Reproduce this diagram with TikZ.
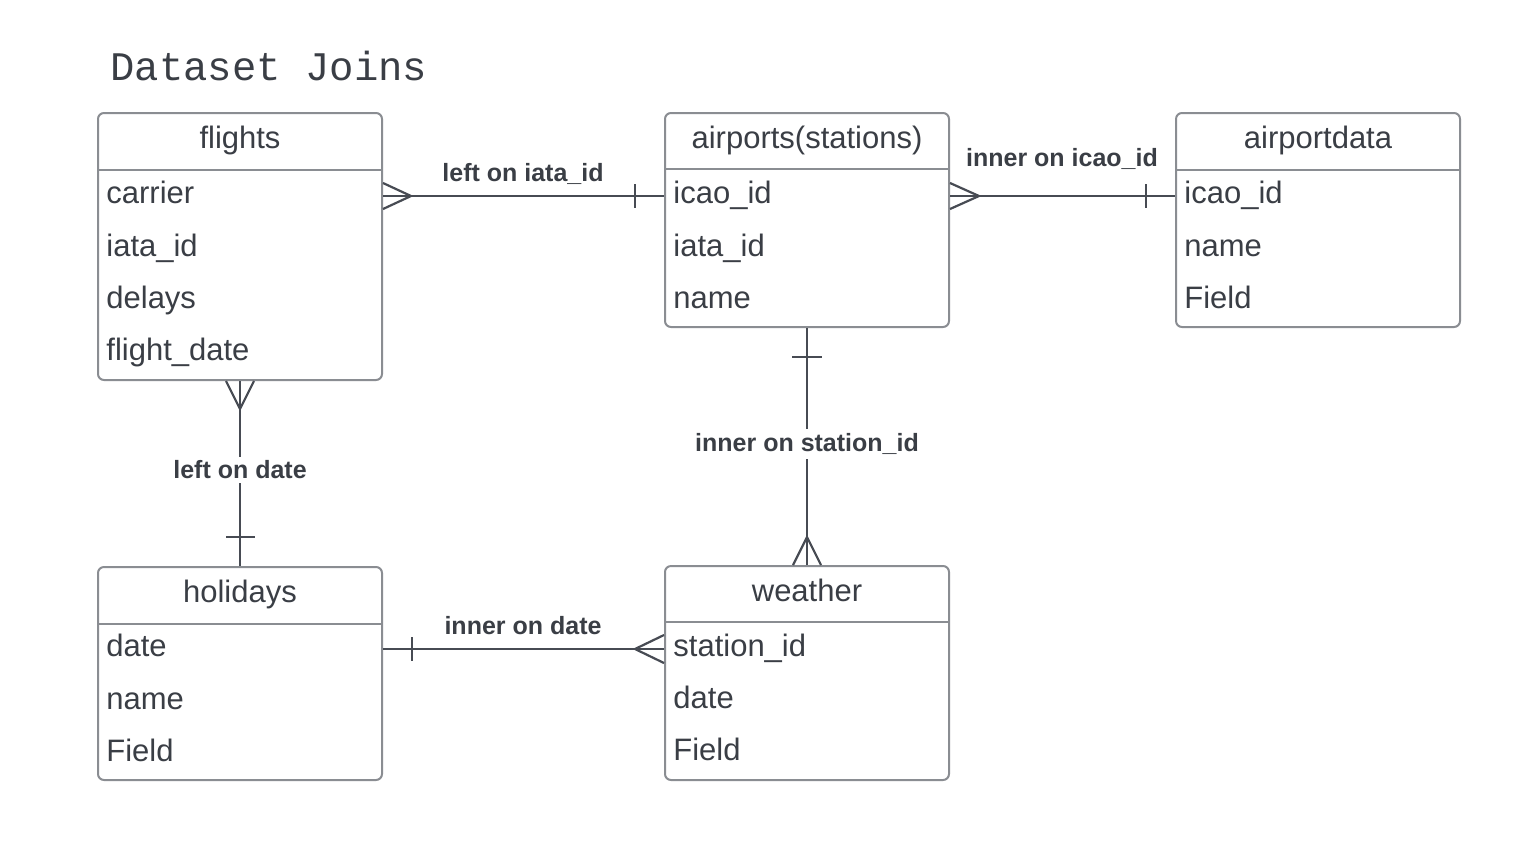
\documentclass[tikz,border=0pt]{standalone}
\usepackage{fontspec}
\setmainfont{Liberation Sans}
\newfontfamily\titlefont{Liberation Mono}
\usetikzlibrary{calc}
\definecolor{txt}{HTML}{3A3E45}
\definecolor{boxline}{HTML}{8A8D92}
\definecolor{conline}{HTML}{474B53}
\tikzset{
  tbl/.style={draw=boxline, line width=1pt, rounded corners=3pt, fill=none, inner sep=0pt, minimum width=142pt},
  hdrline/.style={draw=boxline, line width=1pt},
  hdr/.style={font=\fontsize{15.5}{18}\selectfont, text=txt, anchor=base, inner sep=0pt},
  fld/.style={font=\fontsize{15.5}{18}\selectfont, text=txt, anchor=base west, inner sep=0pt},
  lbl/.style={font=\bfseries\fontsize{12.5}{15}\selectfont, text=txt, anchor=base, inner sep=0pt},
  lblbg/.style={font=\bfseries\fontsize{12.5}{15}\selectfont, text=txt, fill=white, inner sep=2pt},
  conn/.style={draw=conline, line width=1.1pt},
}
\begin{document}
\begin{tikzpicture}[x=0.5pt,y=-0.5pt]
\useasboundingbox (0,0) rectangle (1540,858);
\fill[white] (0,0) rectangle (1540,858);

% title
\node[font=\titlefont\fontsize{20.3}{24}\selectfont, text=txt, anchor=base west, inner sep=0pt] (title) at (110,80) {Dataset Joins};

% tables
\node[tbl, minimum height=133.5pt] (flights) at (240,246.5) {};
\node[tbl, minimum height=107pt] (airports) at (807,220) {};
\node[tbl, minimum height=107pt] (airportdata) at (1318,220) {};
\node[tbl, minimum height=106.5pt] (holidays) at (240,673.5) {};
\node[tbl, minimum height=107pt] (weather) at (807,673) {};

% header lines
\draw[hdrline] (flights.west |- 0,170) -- (flights.east |- 0,170);
\draw[hdrline] (airports.west |- 0,169) -- (airports.east |- 0,169);
\draw[hdrline] (airportdata.west |- 0,170) -- (airportdata.east |- 0,170);
\draw[hdrline] (holidays.west |- 0,624) -- (holidays.east |- 0,624);
\draw[hdrline] (weather.west |- 0,622) -- (weather.east |- 0,622);

% headers
\node[hdr] (hflights) at (240,148) {flights};
\node[hdr] (hairports) at (807,148) {airports(stations)};
\node[hdr] (hairportdata) at (1318,148) {airportdata};
\node[hdr] (hholidays) at (240,602) {holidays};
\node[hdr] (hweather) at (807,601) {weather};

% fields
\node[fld] (f1) at (106,203) {carrier};
\node[fld] (f2) at (106,256) {iata\_id};
\node[fld] (f3) at (106,308) {delays};
\node[fld] (f4) at (106,360) {flight\_date};

\node[fld] (a1) at (673,203) {icao\_id};
\node[fld] (a2) at (673,256) {iata\_id};
\node[fld] (a3) at (673,308) {name};

\node[fld] (d1) at (1184,203) {icao\_id};
\node[fld] (d2) at (1184,256) {name};
\node[fld] (d3) at (1184,308) {Field};

\node[fld] (h1) at (106,656) {date};
\node[fld] (h2) at (106,709) {name};
\node[fld] (h3) at (106,761) {Field};

\node[fld] (w1) at (673,656) {station\_id};
\node[fld] (w2) at (673,708) {date};
\node[fld] (w3) at (673,760) {Field};

% connector end points
\coordinate (c1a) at (flights.east |- 0,196);
\coordinate (c1b) at (airports.west |- 0,196);
\coordinate (c2a) at (airports.east |- 0,196);
\coordinate (c2b) at (airportdata.west |- 0,196);
\coordinate (c3a) at (flights.south);
\coordinate (c3b) at (holidays.north);
\coordinate (c4a) at (airports.south);
\coordinate (c4b) at (weather.north);
\coordinate (c5a) at (holidays.east |- 0,649);
\coordinate (c5b) at (weather.west |- 0,649);

% connector 1: flights -> airports
\draw[conn] (c1a) -- (c1b);
\draw[conn] ($(c1a)+(0,-13)$) -- ($(c1a)+(28,0)$) -- ($(c1a)+(0,13)$);
\draw[conn] ($(c1b)+(-29,-12)$) -- ($(c1b)+(-29,12)$);
\node[lbl] (l1) at (523,181) {left on iata\_id};

% connector 2: airports -> airportdata
\draw[conn] (c2a) -- (c2b);
\draw[conn] ($(c2a)+(0,-13)$) -- ($(c2a)+(29,0)$) -- ($(c2a)+(0,13)$);
\draw[conn] ($(c2b)+(-29,-12)$) -- ($(c2b)+(-29,12)$);
\node[lbl] (l2) at (1062,166) {inner on icao\_id};

% connector 3: flights -> holidays
\draw[conn] (c3a) -- (c3b);
\draw[conn] ($(c3a)+(-14,0)$) -- ($(c3a)+(0,28)$) -- ($(c3a)+(14,0)$);
\draw[conn] ($(c3b)+(-14,-29)$) -- ($(c3b)+(15,-29)$);
\node[lblbg] (l3) at (240,470) {left on date};

% connector 4: airports -> weather
\draw[conn] (c4a) -- (c4b);
\draw[conn] ($(c4a)+(-15,29)$) -- ($(c4a)+(15,29)$);
\draw[conn] ($(c4b)+(-14,0)$) -- ($(c4b)+(0,-28)$) -- ($(c4b)+(14,0)$);
\node[lblbg] (l4) at (807,444) {inner on station\_id};

% connector 5: holidays -> weather
\draw[conn] (c5a) -- (c5b);
\draw[conn] ($(c5a)+(29,-12)$) -- ($(c5a)+(29,12)$);
\draw[conn] ($(c5b)+(0,-14)$) -- ($(c5b)+(-29,0)$) -- ($(c5b)+(0,14)$);
\node[lbl] (l5) at (523,634) {inner on date};
\end{tikzpicture}
\end{document}
